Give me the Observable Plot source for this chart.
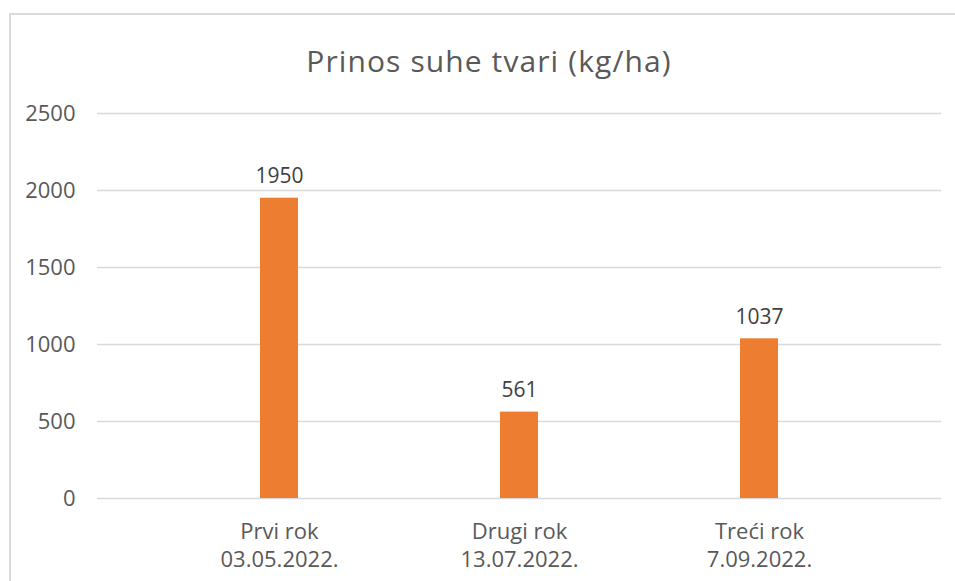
<!DOCTYPE html>
<html>
<head>
<meta charset="utf-8">
<script src="https://cdn.jsdelivr.net/npm/d3@7"></script>
<script src="https://cdn.jsdelivr.net/npm/@observablehq/plot@0.6"></script>
<style>
  html, body { margin: 0; padding: 0; background: #fff; }
  #wrap { position: relative; width: 955px; height: 581px; overflow: hidden; }
  #border { position: absolute; left: 9px; top: 13px; width: 980px; height: 600px; border: 2px solid #d9d9d9; box-sizing: border-box; }
  #title { position: absolute; left: 0; width: 978px; top: 40px; text-align: center; font-family: "Open Sans", sans-serif; font-size: 30px; letter-spacing: 1.1px; color: #595959; line-height: normal; }
  #chart { position: absolute; left: 0; top: 0; }
</style>
</head>
<body>
<div id="wrap">
  <div id="border"></div>
  <div id="title">Prinos suhe tvari (kg/ha)</div>
  <div id="chart"></div>
</div>
<script>
const categories = ["Prvi rok", "Drugi rok", "Treći rok"];
const dates = ["03.05.2022.", "13.07.2022.", "7.09.2022."];
const values = [1950, 561, 1037];
const yTicks = [0, 500, 1000, 1500, 2000, 2500];

const data = categories.map((c, i) => ({cat: c, date: dates[i], value: values[i]}));
const font = "Open Sans, sans-serif";

const chart = Plot.plot({
  width: 955,
  height: 581,
  marginLeft: 97,
  marginRight: 14,
  marginTop: 113,
  marginBottom: 83,
  style: {fontFamily: font, fontSize: "22px", color: "#595959", background: "transparent"},
  x: {domain: categories, range: [158.2, 880.3], paddingInner: 0.842, paddingOuter: 0.421, axis: null},
  y: {domain: [0, 2500], ticks: yTicks, tickSize: 0, tickPadding: 22, tickFormat: d3.format("d"), label: null},
  marks: [
    Plot.ruleY(yTicks, {stroke: "#d9d9d9", strokeWidth: 1.5}),
    Plot.barY(data, {x: "cat", y: "value", fill: "#ED7D31"}),
    Plot.text(data, {x: "cat", y: "value", text: d => String(d.value), dy: -22, fill: "#404040", fontSize: 21}),
    Plot.text(data, {x: "cat", text: d => d.cat + "\n" + d.date, frameAnchor: "bottom", lineAnchor: "top", dy: 20, lineHeight: 1.3, fill: "#595959", fontSize: 22})
  ]
});
document.getElementById("chart").appendChild(chart);
</script>
</body>
</html>
